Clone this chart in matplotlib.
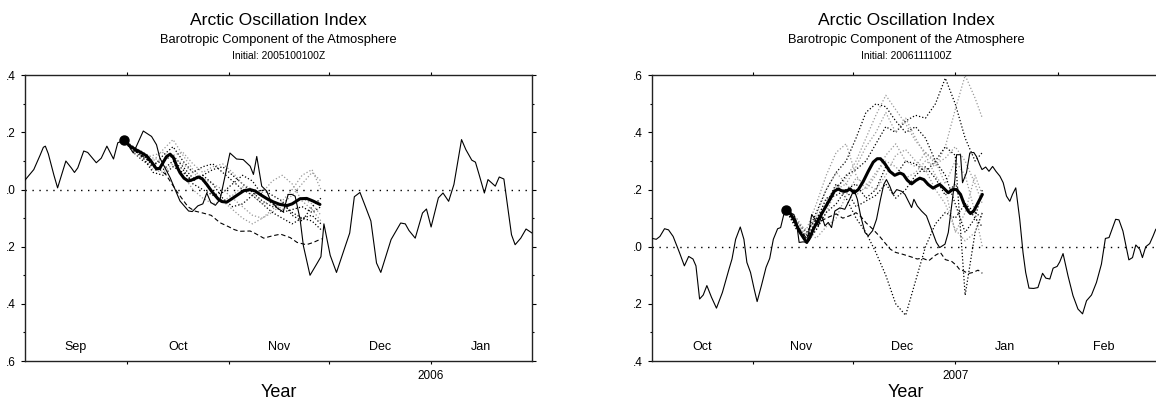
import numpy as np
import matplotlib
matplotlib.use("Agg")
import matplotlib.pyplot as plt

plt.rcParams['font.family'] = ['Liberation Sans', 'DejaVu Sans']

# ---------------- data: left panel (initial 2005100100Z), x = days since 1 Sep 2005
obs05_days = [-0.76, 1.9, 3.8, 4.8, 5.4, 6.3, 8.0, 9.1, 11.6, 13.3, 14.2, 15.2, 17.0, 18.2, 20.8, 22.3,
              24.0, 26.0, 27.3, 29.2, 30.5, 32.0, 35.0, 37.5, 39.0, 40.0, 43.1, 46.1, 48.7, 49.8, 51.5,
              53.0, 54.2, 55.4, 56.8, 58.2, 61.2, 63.2, 65.2, 67.3, 68.3, 69.3, 70.8, 72.3, 73.3, 75.3,
              77.3, 78.8, 79.9, 80.9, 82.4, 83.4, 85.4, 87.6, 88.7, 89.6, 91.5, 93.4, 96.0, 97.4, 98.8,
              100.5, 102.1, 103.8, 105.5, 106.8, 109.9, 112.8, 114.2, 115.3, 117.2, 119.4, 120.6, 122.0,
              124.2, 125.6, 127.3, 128.9, 131.2, 132.5, 134.3, 135.4, 136.5, 138.1, 139.2, 141.4, 142.6,
              144.0, 146.3, 147.4, 149.1, 150.7, 152.5]
obs05_vals = [0.033, 0.07, 0.12, 0.148, 0.152, 0.125, 0.05, 0.006, 0.10, 0.075, 0.06, 0.076, 0.135, 0.13,
              0.094, 0.11, 0.152, 0.107, 0.164, 0.172, 0.155, 0.128, 0.205, 0.186, 0.157, 0.111, 0.042,
              -0.04, -0.075, -0.077, -0.057, -0.05, -0.012, -0.045, -0.055, -0.035, 0.128, 0.107, 0.105,
              0.082, 0.053, 0.116, 0.012, -0.005, -0.034, -0.063, -0.078, -0.017, -0.017, -0.023, -0.104,
              -0.197, -0.30, -0.257, -0.235, -0.12, -0.23, -0.29, -0.20, -0.152, -0.025, -0.01, -0.058,
              -0.11, -0.257, -0.29, -0.175, -0.117, -0.12, -0.143, -0.17, -0.082, -0.068, -0.131, -0.029,
              -0.012, -0.041, 0.018, 0.175, 0.14, 0.103, 0.096, 0.053, -0.012, 0.035, 0.012, 0.044, 0.037,
              -0.158, -0.193, -0.17, -0.138, -0.152]

mean05_days = [29.2, 31.0, 33.0, 34.3, 36.0, 37.3, 39.0, 40.0, 41.0, 42.0, 43.1, 44.1, 45.2, 46.1, 47.3,
               48.6, 50.0, 51.6, 52.8, 54.2, 55.8, 57.7, 58.8, 60.2, 61.8, 63.7, 65.4, 67.3, 68.8, 70.3,
               72.4, 74.3, 76.3, 78.4, 80.0, 82.4, 84.4, 86.3, 88.4]
mean05_vals = [0.172, 0.152, 0.138, 0.13, 0.118, 0.1, 0.072, 0.075, 0.095, 0.115, 0.124, 0.112, 0.08,
               0.059, 0.04, 0.03, 0.035, 0.044, 0.038, 0.018, -0.008, -0.034, -0.042, -0.044, -0.032,
               -0.017, -0.004, 0.0, -0.005, -0.017, -0.032, -0.043, -0.052, -0.056, -0.05, -0.032, -0.031,
               -0.04, -0.052]

dash05_days = [29.2, 32, 35, 38, 41.8, 45.1, 48.5, 50.5, 53, 55.5, 58.2, 60.8, 62.5, 64.1, 67.3, 68.6,
               71.4, 74, 76.5, 79.4, 81.5, 84.3, 86.4, 88.9]
dash05_vals = [0.172, 0.14, 0.115, 0.09, 0.053, -0.006, -0.06, -0.075, -0.082, -0.09, -0.116, -0.13,
               -0.14, -0.146, -0.145, -0.152, -0.17, -0.162, -0.156, -0.168, -0.185, -0.193, -0.185, -0.172]

fc05_days = [29.2, 32, 35, 38, 41, 44, 47, 50, 53, 56, 59, 62, 65, 68, 71, 74, 77, 80, 83, 86, 88.7]
members05 = [
    [0.172, 0.14, 0.12, 0.09, 0.10, 0.12, 0.08, 0.04, 0.05, 0.07, 0.08, 0.05, 0.02, -0.01, -0.04, -0.06, -0.05, -0.08, -0.10, -0.09, -0.12],
    [0.172, 0.15, 0.13, 0.10, 0.14, 0.175, 0.12, 0.07, 0.04, 0.02, 0.0, -0.03, -0.06, -0.09, -0.10, -0.08, -0.05, -0.02, 0.02, 0.06, 0.03],
    [0.172, 0.13, 0.10, 0.08, 0.12, 0.15, 0.10, 0.06, 0.08, 0.09, 0.06, 0.03, 0.0, -0.02, -0.05, -0.08, -0.10, -0.12, -0.10, -0.11, -0.14],
    [0.172, 0.14, 0.11, 0.07, 0.06, 0.09, 0.05, 0.0, -0.03, -0.05, -0.04, -0.07, -0.10, -0.12, -0.10, -0.07, -0.04, 0.0, 0.05, 0.07, 0.0],
    [0.172, 0.15, 0.12, 0.08, 0.07, 0.10, 0.07, 0.02, 0.0, -0.02, -0.01, 0.02, 0.05, 0.03, -0.02, -0.05, -0.08, -0.07, -0.06, -0.08, -0.06],
    [0.172, 0.13, 0.11, 0.12, 0.13, 0.11, 0.09, 0.06, 0.03, -0.01, -0.04, -0.02, 0.01, -0.02, -0.05, -0.04, -0.07, -0.05, -0.03, -0.05, -0.09],
    [0.172, 0.14, 0.11, 0.06, 0.05, 0.08, 0.06, 0.03, 0.05, 0.02, -0.03, -0.06, -0.05, -0.02, 0.0, -0.02, -0.04, -0.09, -0.11, -0.06, -0.03],
    [0.172, 0.15, 0.13, 0.11, 0.10, 0.12, 0.13, 0.09, 0.06, 0.08, 0.09, 0.06, 0.02, 0.0, -0.01, 0.03, 0.05, 0.02, -0.04, -0.07, -0.11],
]

months05 = ['Sep', 'Oct', 'Nov', 'Dec', 'Jan']
month_mid05 = [14.5, 45.5, 76.0, 106.5, 137.0]
month_ticks05 = [30, 61, 91, 122]
year_labels05 = ['', '', '', '2006']
ytick_labels05 = ['.6', '.4', '.2', '.0', '.2', '.4']

# ---------------- data: right panel (initial 2006111100Z), x = days since 1 Oct 2006
obs06_days = [0.4, 1.6, 2.7, 4.1, 5.3, 6.7, 8.6, 10.1, 11.4, 12.7, 13.6, 14.7, 15.8, 16.9, 18.3, 19.8,
              21.6, 23.6, 24.5, 25.6, 27.0, 28.1, 29.0, 30.1, 31.2, 32.1, 33.4, 34.8, 35.9, 37.0, 38.3,
              39.2, 40.1, 40.9, 42.0, 43.2, 44.0, 44.8, 46.0, 47.2, 48.6, 49.6, 50.6, 51.6, 52.6, 53.6,
              54.6, 55.6, 57.1, 58.6, 60.1, 61.4, 62.4, 63.4, 64.7, 65.7, 67.0, 68.2, 69.4, 70.4, 71.2,
              72.2, 73.2, 74.3, 75.8, 76.8, 77.8, 78.8, 79.5, 80.5, 81.8, 83.3, 84.8, 86.3, 87.3, 88.9,
              89.9, 90.9, 91.9, 92.4, 93.6, 94.2, 95.4, 96.4, 97.6, 98.4, 99.4, 100.1, 101.2, 102.2, 103.3,
              104.3, 105.5, 106.5, 107.5, 108.5, 109.3, 110.3, 111.5, 112.5, 113.3, 114.3, 115.7, 117.0,
              118.4, 119.4, 120.6, 121.6, 122.8, 123.6, 124.6, 126.1, 127.6, 129.1, 130.5, 131.7, 133.2,
              134.7, 136.2, 137.4, 138.5, 140.5, 141.5, 142.7, 144.5, 145.6, 146.6, 147.8, 148.6, 149.6,
              150.8, 151.8, 152.6, 153.7]
obs06_vals = [0.029, 0.026, 0.036, 0.063, 0.059, 0.036, -0.02, -0.067, -0.034, -0.043, -0.067, -0.183,
              -0.169, -0.136, -0.177, -0.215, -0.16, -0.078, -0.043, 0.026, 0.069, 0.026, -0.055, -0.09,
              -0.148, -0.192, -0.136, -0.072, -0.041, 0.026, 0.063, 0.067, 0.11, 0.127, 0.119, 0.113,
              0.084, 0.015, 0.017, 0.015, 0.113, 0.096, 0.073, 0.108, 0.073, 0.085, 0.067, 0.125, 0.136,
              0.131, 0.166, 0.2, 0.166, 0.108, 0.05, 0.038, 0.056, 0.096, 0.166, 0.218, 0.235, 0.212,
              0.183, 0.2, 0.194, 0.183, 0.16, 0.137, 0.166, 0.143, 0.125, 0.108, 0.061, 0.015, -0.003,
              0.009, 0.05, 0.143, 0.235, 0.322, 0.322, 0.224, 0.259, 0.328, 0.33, 0.316, 0.287, 0.27,
              0.279, 0.264, 0.281, 0.264, 0.247, 0.224, 0.177, 0.159, 0.183, 0.206, 0.096, -0.021, -0.09,
              -0.145, -0.146, -0.143, -0.093, -0.11, -0.113, -0.075, -0.069, -0.053, -0.024, -0.102,
              -0.171, -0.218, -0.235, -0.189, -0.169, -0.125, -0.061, 0.029, 0.032, 0.096, 0.094, 0.055,
              -0.046, -0.038, 0.006, -0.009, -0.038, 0.0, 0.011, 0.037, 0.06, 0.075]

mean06_days = [40.9, 42.0, 43.5, 44.8, 46.3, 47.1, 47.9, 49.1, 50.1, 52.1, 54.1, 55.4, 56.6, 57.6, 58.9,
               60.2, 61.4, 62.7, 64.2, 65.7, 67.2, 68.4, 69.4, 70.7, 72.2, 73.7, 75.3, 76.3, 77.5, 78.8,
               80.1, 81.3, 82.5, 83.8, 85.3, 86.3, 87.3, 88.5, 89.9, 91.2, 92.4, 93.6, 94.6, 95.9, 96.6,
               97.6, 98.9, 100.2]
mean06_vals = [0.127, 0.119, 0.09, 0.055, 0.028, 0.015, 0.029, 0.061, 0.084, 0.125, 0.166, 0.194, 0.202,
               0.196, 0.194, 0.202, 0.189, 0.2, 0.229, 0.264, 0.296, 0.308, 0.308, 0.291, 0.264, 0.25,
               0.258, 0.253, 0.233, 0.22, 0.232, 0.24, 0.235, 0.218, 0.205, 0.212, 0.218, 0.205, 0.189,
               0.2, 0.2, 0.183, 0.152, 0.125, 0.116, 0.125, 0.154, 0.183]

dash06_days = [40.9, 43, 45, 47, 50, 53, 56, 58, 60, 62, 63.5, 65, 67.2, 69, 71, 72.4, 74, 76, 78.5,
               80.5, 82, 84, 86, 87.5, 89, 91, 92.4, 93.4, 94.4, 95.9, 97.4, 98.9, 100.2]
dash06_vals = [0.127, 0.1, 0.06, 0.03, 0.08, 0.1, 0.115, 0.1, 0.108, 0.119, 0.105, 0.084, 0.06, 0.038,
               0.01, -0.009, -0.02, -0.026, -0.035, -0.043, -0.04, -0.049, -0.03, -0.02, -0.045, -0.052,
               -0.066, -0.081, -0.084, -0.094, -0.09, -0.082, -0.093]

fc06_days = [40.9, 44, 47, 50, 53, 56, 59, 62, 65, 68, 71, 74, 77, 80, 83, 86, 89, 92, 95, 98, 100.2]
members06 = [
    [0.127, 0.06, 0.04, 0.12, 0.2, 0.26, 0.3, 0.38, 0.47, 0.5, 0.49, 0.44, 0.4, 0.42, 0.38, 0.3, 0.25, 0.15, 0.05, 0.1, 0.2],
    [0.127, 0.08, 0.03, 0.1, 0.16, 0.21, 0.24, 0.3, 0.38, 0.46, 0.53, 0.48, 0.43, 0.37, 0.33, 0.3, 0.22, 0.3, 0.25, 0.12, 0.0],
    [0.127, 0.09, 0.05, 0.1, 0.14, 0.2, 0.25, 0.27, 0.3, 0.36, 0.42, 0.40, 0.44, 0.46, 0.45, 0.5, 0.59, 0.5, 0.38, 0.3, 0.33],
    [0.127, 0.1, 0.02, 0.06, 0.12, 0.2, 0.22, 0.18, 0.21, 0.26, 0.3, 0.28, 0.24, 0.26, 0.3, 0.28, 0.35, 0.48, 0.6, 0.52, 0.45],
    [0.127, 0.07, 0.02, 0.08, 0.15, 0.22, 0.17, 0.1, 0.05, -0.02, -0.1, -0.2, -0.24, -0.12, 0.0, 0.08, 0.12, 0.1, 0.15, 0.12, 0.1],
    [0.127, 0.08, 0.06, 0.15, 0.25, 0.33, 0.36, 0.25, 0.2, 0.25, 0.32, 0.36, 0.3, 0.28, 0.33, 0.29, 0.31, 0.35, 0.3, 0.22, 0.15],
    [0.127, 0.08, 0.01, 0.06, 0.12, 0.15, 0.2, 0.22, 0.17, 0.2, 0.28, 0.25, 0.3, 0.29, 0.26, 0.3, 0.35, 0.32, -0.17, 0.05, 0.12],
    [0.127, 0.1, 0.05, 0.03, 0.07, 0.1, 0.18, 0.24, 0.22, 0.2, 0.25, 0.32, 0.34, 0.3, 0.27, 0.2, 0.15, 0.06, 0.02, 0.05, 0.12],
    [0.127, 0.07, 0.03, 0.09, 0.17, 0.18, 0.2, 0.14, 0.16, 0.18, 0.22, 0.17, 0.2, 0.25, 0.28, 0.24, 0.18, 0.22, 0.15, 0.1, 0.07],
    [0.127, 0.09, 0.04, 0.11, 0.2, 0.26, 0.22, 0.28, 0.35, 0.4, 0.47, 0.4, 0.45, 0.38, 0.32, 0.25, 0.2, 0.05, 0.12, 0.25, 0.18],
]

months06 = ['Oct', 'Nov', 'Dec', 'Jan', 'Feb']
month_mid06 = [15.5, 45.5, 76.0, 107.0, 137.0]
month_ticks06 = [31, 61, 92, 123]
year_labels06 = ['', '', '2007', '']
ytick_labels06 = ['.4', '.2', '.0', '.2', '.4', '.6']


def draw_panel(ax, obs_d, obs_v, fc_d, members, dash_d, dash_v, mean_d, mean_v,
               ylo, yhi, xlim, ticks, tick_labels, ylabels, months, mids, initial, xcenter):
    ax.axhline(0, color='black', lw=1.0, ls=(0, (1, 4)), zorder=1)
    for i, m in enumerate(members):
        shade = 'black' if i % 2 == 0 else '0.6'
        ax.plot(fc_d, m, color=shade, lw=0.9, ls=':', zorder=2)
    ax.plot(dash_d, dash_v, color='black', lw=0.8, ls=(0, (4, 2.5)), zorder=3)
    ax.plot(obs_d, obs_v, color='black', lw=0.8, zorder=4)
    ax.plot(mean_d, mean_v, color='black', lw=2.2, zorder=5, solid_capstyle='round')
    ax.plot(mean_d[0], mean_v[0], 'o', color='black', ms=6.5, zorder=6)

    ax.set_xlim(*xlim)
    ax.set_ylim(ylo, yhi)
    ax.set_xticks(ticks)
    ax.set_xticklabels(tick_labels)
    ax.set_yticks(np.round(np.arange(ylo, yhi + 0.01, 0.2), 2))
    ax.set_yticklabels(ylabels)
    ax.set_yticks(np.round(np.arange(ylo + 0.1, yhi, 0.2), 2), minor=True)
    ax.tick_params(axis='x', which='major', direction='out', length=2.5, width=0.8,
                   top=True, bottom=True, labelsize=8.5, pad=4)
    ax.tick_params(axis='y', which='major', direction='out', length=3, width=0.8,
                   left=True, right=True, labelsize=8.5, pad=4)
    ax.tick_params(axis='y', which='minor', direction='out', length=1.5, width=0.8,
                   left=True, right=True)
    for s in ax.spines.values():
        s.set_linewidth(1.0)
        s.set_color('#222222')

    for name, mid in zip(months, mids):
        ax.text(mid, 0.05, name, transform=ax.get_xaxis_transform(),
                ha='center', va='center', fontsize=9)

    ax.set_xlabel('Year', fontsize=13)
    ax.xaxis.set_label_coords(0.5, -0.112)
    ax.xaxis.label.set_va('center')

    fig.text(xcenter, 1 - 25.0 / 400, 'Arctic Oscillation Index', ha='center', va='baseline', fontsize=12.6)
    fig.text(xcenter, 1 - 43.3 / 400, 'Barotropic Component of the Atmosphere',
             ha='center', va='baseline', fontsize=9.3)
    fig.text(xcenter, 1 - 59.3 / 400, 'Initial: ' + initial, ha='center', va='baseline', fontsize=7.4)


fig = plt.figure(figsize=(11.56, 4.0), dpi=100)
ax1 = fig.add_axes([0.02163, 0.0975, 0.43858, 0.71425])
ax2 = fig.add_axes([0.56427, 0.0975, 0.43858, 0.71425])

draw_panel(ax1, obs05_days, obs05_vals, fc05_days, members05, dash05_days, dash05_vals,
           mean05_days, mean05_vals, -0.6, 0.4, (-0.75, 152.5), month_ticks05, year_labels05,
           ytick_labels05, months05, month_mid05, '2005100100Z', 0.2409)
draw_panel(ax2, obs06_days, obs06_vals, fc06_days, members06, dash06_days, dash06_vals,
           mean06_days, mean06_vals, -0.4, 0.6, (0.4, 153.7), month_ticks06, year_labels06,
           ytick_labels06, months06, month_mid06, '2006111100Z', 0.7837)

fig.savefig('out.png', dpi=100)
plt.close(fig)
